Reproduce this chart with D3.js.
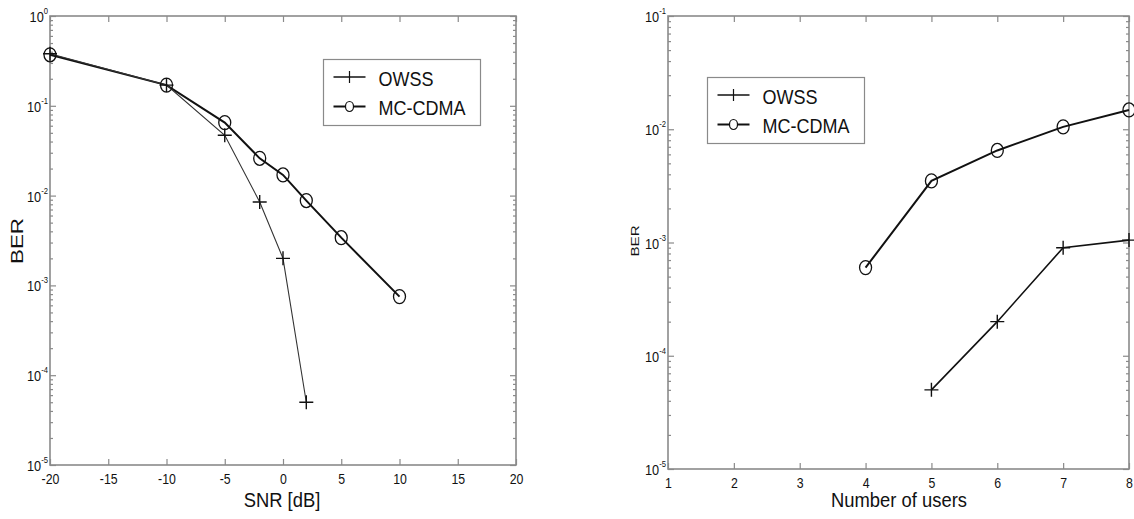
<!DOCTYPE html>
<html>
<head>
<meta charset="utf-8">
<script src="https://cdn.jsdelivr.net/npm/d3@7"></script>
<style>
  body { margin: 0; background: #fff; }
  text { font-family: "Liberation Sans", Arial, sans-serif; fill: #111; }
</style>
</head>
<body>
<script>
    var width = 1134;
    var height = 519;

    // left plot: BER vs SNR
    var snrOwss = [-20, -10, -5, -2, 0, 2];
    var berOwssSnr = [0.38, 0.17, 0.047, 0.0085, 0.002, 0.00005];
    var snrMc = [-20, -10, -5, -2, 0, 2, 5, 10];
    var berMcSnr = [0.37, 0.17, 0.065, 0.026, 0.017, 0.0088, 0.0034, 0.00075];
    var snrTicks = [-20, -15, -10, -5, 0, 5, 10, 15, 20];
    var snrDecades = [-5, -4, -3, -2, -1, 0];

    // right plot: BER vs number of users
    var usersOwss = [5, 6, 7, 8];
    var berOwssUsers = [0.00005, 0.0002, 0.0009, 0.00105];
    var usersMc = [4, 5, 6, 7, 8];
    var berMcUsers = [0.0006, 0.0035, 0.0065, 0.0105, 0.0148];
    var userTicks = [1, 2, 3, 4, 5, 6, 7, 8];
    var userDecades = [-5, -4, -3, -2, -1];

    var seriesNames = ["OWSS", "MC-CDMA"];

    var svg = d3.select("body").append("svg")
      .attr("width", width)
      .attr("height", height);

    var axisColour = "#8a8a8a";
    var lineColour = "#111";

    var lineFunction = d3.line()
      .x(function(d) { return d.x; })
      .y(function(d) { return d.y; });

    function zip(xs, ys) {
      return xs.map(function(v, i) { return {u: v, v: ys[i]}; });
    }

    function drawPanel(p) {
      var x = d3.scaleLinear().domain(p.xDomain).range([p.left, p.right]);
      var y = d3.scaleLog().domain([Math.pow(10, p.decades[0]), Math.pow(10, p.decades[p.decades.length - 1])])
        .range([p.bottom, p.top]);
      var g = svg.append("g");

      var majors = p.decades.map(function(e) { return Math.pow(10, e); });
      var minors = [];
      p.decades.slice(0, -1).forEach(function(e) {
        for (var k = 2; k < 10; k++) minors.push(k * Math.pow(10, e));
      });

      // axes (ticks inward, MATLAB style)
      var xb = g.append("g").attr("transform", "translate(0," + p.bottom + ")")
        .call(d3.axisBottom(x).tickValues(p.xTicks).tickSize(-6).tickPadding(9)
          .tickFormat(function(d) { return String(d); }));
      xb.selectAll("text").attr("font-size", 14).attr("transform", "scale(0.88,1)");
      g.append("g").attr("transform", "translate(0," + p.top + ")")
        .call(d3.axisTop(x).tickValues(p.xTicks).tickSize(-6).tickFormat(""));

      [["L", p.left], ["R", p.right]].forEach(function(side) {
        var mk = side[0] == "L" ? d3.axisLeft : d3.axisRight;
        g.append("g").attr("transform", "translate(" + side[1] + ",0)")
          .call(mk(y).tickValues(majors).tickSize(-6).tickFormat(""));
        g.append("g").attr("transform", "translate(" + side[1] + ",0)")
          .call(mk(y).tickValues(minors).tickSize(-3).tickFormat(""));
      });

      g.selectAll(".domain").remove();
      g.selectAll(".tick line").attr("stroke", axisColour).attr("stroke-width", 1.2);

      g.append("rect")
        .attr("x", p.left).attr("y", p.top)
        .attr("width", p.right - p.left).attr("height", p.bottom - p.top)
        .attr("fill", "none").attr("stroke", axisColour).attr("stroke-width", 1.6);

      // y tick labels 10^e
      p.decades.forEach(function(e) {
        var t = g.append("text")
          .attr("text-anchor", "end")
          .attr("transform", "translate(" + (p.left - 2) + "," + (y(Math.pow(10, e)) + 6) + ") scale(0.85,1)");
        t.append("tspan").attr("font-size", 15).text("10");
        t.append("tspan").attr("font-size", 9).attr("dy", -8).text(String(e));
      });

      // axis titles
      g.append("text")
        .attr("text-anchor", "middle")
        .attr("font-size", 20)
        .attr("transform", "translate(" + p.xLabelX + ",507) scale(0.92,1)")
        .text(p.xLabel);
      g.append("text")
        .attr("text-anchor", "middle")
        .attr("font-size", p.yLabelSize)
        .attr("transform", "translate(" + p.yLabelX + ",241) rotate(-90) scale(1.32,1)")
        .text("BER");

      // series
      var owss = zip(p.owssX, p.owssY).map(function(d) { return {x: x(d.u), y: y(d.v)}; });
      var mc = zip(p.mcX, p.mcY).map(function(d) { return {x: x(d.u), y: y(d.v)}; });

      g.append("path").attr("d", lineFunction(mc))
        .attr("fill", "none").attr("stroke", lineColour).attr("stroke-width", 2);
      g.append("path").attr("d", lineFunction(owss))
        .attr("fill", "none").attr("stroke", p.owssColour).attr("stroke-width", p.owssWidth);

      g.selectAll("ellipse.mc").data(mc).enter()
        .append("ellipse")
        .attr("cx", function(d) { return d.x; })
        .attr("cy", function(d) { return d.y; })
        .attr("rx", 6).attr("ry", 7)
        .attr("fill", "none").attr("stroke", lineColour).attr("stroke-width", 1.3);

      g.selectAll("path.plus").data(owss).enter()
        .append("path")
        .attr("d", function(d) {
          return "M" + (d.x - 7) + "," + d.y + "H" + (d.x + 7) + "M" + d.x + "," + (d.y - 7) + "V" + (d.y + 7);
        })
        .attr("stroke", lineColour).attr("stroke-width", 1.4);

      // legend
      var lg = g.append("g").attr("transform", "translate(" + p.legX + "," + p.legY + ")");
      lg.append("rect").attr("width", 157).attr("height", 66)
        .attr("fill", "#fff").attr("stroke", axisColour).attr("stroke-width", 1.2);
      seriesNames.forEach(function(name, i) {
        var ly = 17.5 + i * 29.5;
        lg.append("line").attr("x1", 10).attr("x2", 42).attr("y1", ly).attr("y2", ly)
          .attr("stroke", lineColour).attr("stroke-width", i == 0 ? 1.3 : 1.8);
        if (i == 0) {
          lg.append("line").attr("x1", 26).attr("x2", 26).attr("y1", ly - 6).attr("y2", ly + 6)
            .attr("stroke", lineColour).attr("stroke-width", 1.2);
        } else {
          lg.append("ellipse").attr("cx", 26).attr("cy", ly).attr("rx", 4).attr("ry", 5)
            .attr("fill", "#fff").attr("stroke", lineColour).attr("stroke-width", 1.2);
        }
        lg.append("text")
          .attr("font-size", 20)
          .attr("transform", "translate(55," + (ly + 8.5) + ") scale(0.9,1)")
          .text(name);
      });
    }

    drawPanel({
      left: 50, right: 516, top: 16, bottom: 465,
      xDomain: [-20, 20], xTicks: snrTicks, decades: snrDecades,
      owssX: snrOwss, owssY: berOwssSnr, mcX: snrMc, mcY: berMcSnr,
      owssColour: "#333", owssWidth: 1.1,
      xLabel: "SNR [dB]", xLabelX: 282,
      yLabelX: 23, yLabelSize: 17,
      legX: 323.5, legY: 59.5
    });

    drawPanel({
      left: 668, right: 1129, top: 16, bottom: 469,
      xDomain: [1, 8], xTicks: userTicks, decades: userDecades,
      owssX: usersOwss, owssY: berOwssUsers, mcX: usersMc, mcY: berMcUsers,
      owssColour: lineColour, owssWidth: 1.6,
      xLabel: "Number of users", xLabelX: 899,
      yLabelX: 639, yLabelSize: 11.5,
      legX: 707.5, legY: 77.5
    });
</script>
</body>
</html>
